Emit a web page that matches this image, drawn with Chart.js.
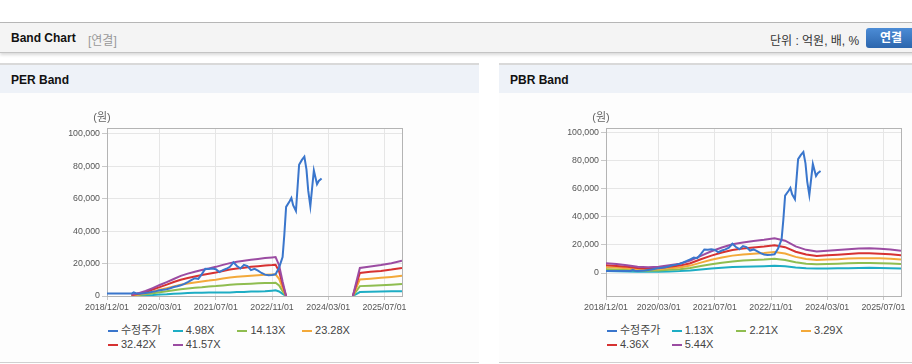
<!DOCTYPE html>
<html lang="ko">
<head>
<meta charset="utf-8">
<title>Band Chart</title>
<script src="https://cdn.jsdelivr.net/npm/chart.js@4.4.1/dist/chart.umd.min.js"></script>
<style>
    html, body { margin: 0; padding: 0; width: 912px; height: 364px; overflow: hidden; background: #fff;
        font-family: "Liberation Sans", Arial, "Noto Sans CJK KR", sans-serif; }
    .wrap { position: relative; width: 980px; height: 364px; }
    .top-line { position: absolute; left: 0; top: 22px; width: 980px; height: 1px; background: #b8b8b8; }
    .head { position: absolute; left: 0; top: 23px; width: 980px; height: 29px; background: #f4f4f4;
        border-bottom: 1px solid #c4c4c4; box-shadow: 0 2px 3px rgba(0, 0, 0, 0.15); }
    .head .tit { position: absolute; left: 11px; top: 8px; font-size: 12px; font-weight: bold; color: #111; }
    .head .sub { position: absolute; left: 77px; top: 0; color: #999; font-weight: normal; white-space: nowrap; }
    .head .unit { position: absolute; left: 770px; top: 8px; font-size: 12px; color: #333; }
    .head .btn { position: absolute; left: 866px; top: 5px; width: 50px; height: 20px; border-radius: 3px;
        background: linear-gradient(#4c8cd6, #2c66ad); color: #fff; font-weight: bold; font-size: 12px;
        text-align: center; line-height: 20px; }
    .panel { position: absolute; top: 63px; width: 479px; height: 297px; border-top: 2px solid #d9d9d9;
        border-bottom: 1px solid #d0d0d0; background: #fdfdfd; }
    .panel h3 { margin: 0; height: 27px; line-height: 28px; padding: 1px 0 0 11px; font-size: 12px;
        background: #eef2f8; color: #111; }
    .panel canvas { position: absolute; left: 0; top: 28px; }
    .legend { position: absolute; left: 108px; top: 258px; width: 300px; font-size: 11px; color: #444; }
    .legend span { display: inline-block; width: 64.7px; height: 14px; line-height: 14px; white-space: nowrap; }
    .legend i { display: inline-block; width: 10px; height: 2px; vertical-align: middle; margin-right: 3px; }
</style>
</head>
<body>
<div class="wrap">
    <div class="top-line"></div>
    <div class="head">
        <div class="tit">Band Chart<span class="sub">[연결]</span></div>
        <div class="unit">단위 : 억원, 배, %</div>
        <div class="btn">연결</div>
    </div>
    <div class="panel" style="left:0">
        <h3>PER Band</h3>
        <canvas id="per-chart" width="479" height="230"></canvas>
        <div class="legend" id="per-legend"></div>
    </div>
    <div class="panel" style="left:499px">
        <h3>PBR Band</h3>
        <canvas id="pbr-chart" width="479" height="230"></canvas>
        <div class="legend" id="pbr-legend"></div>
    </div>
</div>
<script>
(function () {
    'use strict';

    // x positions are months counted from 2018/12.
    var X_TICK_MONTHS = [0, 15, 31, 47, 63, 79];
    var X_TICK_LABELS = ['2018/12/01', '2020/03/01', '2021/07/01', '2022/11/01', '2024/03/01', '2025/07/01'];
    var Y_TICKS = [0, 20000, 40000, 60000, 80000, 100000];

    // 수정주가 (shared by both charts)
    var PRICE_MONTHS = [0, 2, 4, 6, 7, 7.6, 8.2, 9, 10,
        11, 12, 13, 14, 15, 16, 17, 18, 19, 20,
        21, 22, 23, 24, 25, 26, 27, 28, 29, 30,
        31, 32, 33, 34, 35, 36, 37, 38, 39, 40,
        41, 42, 43, 44, 45, 46, 47, 48, 49, 50,
        50.5, 51, 52, 52.5, 53, 53.8, 54.7, 55.5, 56.2, 56.8, 57.3, 57.9, 58.9, 59.8, 60.3, 61.1];
    var PRICE = [1500, 1500, 1500, 1500, 1500, 2300, 1700, 1400, 1600,
        1800, 2200, 2600, 3000, 3500, 3800, 4200, 4800, 5500, 6000,
        6600, 7500, 8600, 9800, 11000, 10600, 13500, 16800, 16600, 16900,
        16500, 14800, 16000, 16800, 18000, 20800, 18500, 17000, 19200, 18500,
        16000, 16800, 15600, 14200, 13200, 12800, 13000, 13400, 17500, 24000,
        38000, 55000, 58500, 60500, 56000, 52500, 81000, 84000, 86000, 78000, 65000, 55500, 77500, 69000, 71000, 72500];

    // PER band (null = gap)
    var PER_MONTHS = [7, 9, 11, 13, 15, 17, 19, 21, 23, 25, 27, 29, 31, 33, 35, 37, 39, 41, 43, 45,
        47, 48, 49, 50, 51, 60, 70, 72, 75, 78, 81, 84];
    var PER_498 = [100, 300, 400, 600, 900, 1100, 1400, 1600, 1800, 2000, 2000, 2100, 2100, 2200, 2200, 2400, 2500, 2800, 2800, 2900,
        3300, 3500, 2800, 1300, 0, null, 0, 2400, 2600, 2800, 2900, 3000];
    var PER_1413 = [300, 600, 1100, 1700, 2300, 2900, 3600, 4200, 4700, 5100, 5400, 5800, 6100, 6500, 6900, 7200, 7400, 7600, 7800, 8000,
        8100, 8200, 6500, 3000, 0, null, 0, 6100, 6400, 6700, 7000, 7400];
    var PER_2328 = [400, 900, 1700, 2700, 3800, 4800, 5900, 6900, 7700, 8400, 9000, 9500, 10100, 10800, 11400, 11900, 12200, 12500, 12800, 13100,
        13300, 13400, 10600, 5000, 0, null, 0, 10200, 10700, 11200, 11800, 12500];
    var PER_3242 = [600, 1400, 2500, 4000, 5500, 7000, 8600, 10000, 11100, 12000, 12900, 13700, 14500, 15400, 16300, 17000, 17500, 18000, 18400, 18800,
        19100, 19300, 15200, 7200, 0, null, 0, 14200, 14900, 15500, 16300, 17300];
    var PER_4157 = [800, 1800, 3100, 4900, 6800, 8600, 10500, 12400, 13800, 15000, 16000, 17000, 18000, 19200, 20300, 21200, 21800, 22400, 22900, 23400,
        23800, 24000, 19000, 9000, 0, null, 0, 17300, 18200, 19100, 20200, 21800];

    // PBR band
    var PBR_MONTHS = [0, 3, 6, 9, 12, 15, 18, 21, 24, 27, 30, 33, 36, 39, 42, 45, 48, 51, 54, 57, 60, 63, 66, 69, 72, 75, 78, 81, 84];
    var PBR_113 = [1500, 1300, 1200, 900, 900, 900, 1200, 1400, 1800, 2500, 3200, 3800, 4300, 4500, 4700, 4900, 5200, 4800, 3900, 3400,
        3200, 3300, 3400, 3500, 3600, 3700, 3600, 3500, 3300];
    var PBR_221 = [2800, 2600, 2300, 1800, 1700, 1800, 2300, 2700, 3600, 5000, 6300, 7400, 8300, 8900, 9300, 9600, 10100, 9300, 7700, 6700,
        6200, 6400, 6700, 6900, 7100, 7100, 7000, 6800, 6500];
    var PBR_329 = [4200, 3900, 3400, 2700, 2500, 2700, 3400, 4000, 5300, 7400, 9400, 11000, 12400, 13200, 13800, 14300, 15000, 13900, 11500, 10000,
        9300, 9600, 9900, 10300, 10600, 10600, 10500, 10200, 9600];
    var PBR_436 = [5600, 5100, 4500, 3600, 3300, 3600, 4500, 5300, 7000, 9800, 12400, 14600, 16400, 17400, 18200, 18900, 19800, 18400, 15200, 13200,
        12200, 12600, 13100, 13600, 14000, 14100, 13800, 13400, 12700];
    var PBR_544 = [7000, 6400, 5600, 4500, 4100, 4500, 5600, 6600, 8800, 12200, 15500, 18200, 20500, 21800, 22800, 23600, 24800, 23000, 19000, 16500,
        15300, 15800, 16400, 17000, 17500, 17600, 17300, 16800, 15900];

    var PER_NAMES = ['수정주가', '4.98X', '14.13X', '23.28X', '32.42X', '41.57X'];
    var PBR_NAMES = ['수정주가', '1.13X', '2.21X', '3.29X', '4.36X', '5.44X'];
    var COLORS = ['#3a76cc', '#1eadc4', '#8fbd50', '#f3a93a', '#d63232', '#9b4ca2'];

    var FONT = "'Liberation Sans', Arial, sans-serif";

    function points(xs, ys) {
        return xs.map(function (x, i) { return { x: x, y: ys[i] }; });
    }

    // Frame around the plot and the unit label above the y axis.
    var framePlugin = {
        id: 'frame',
        beforeDatasetsDraw: function (chart) {
            var a = chart.chartArea;
            var ctx = chart.ctx;
            ctx.save();
            ctx.strokeStyle = '#b4b4b4';
            ctx.lineWidth = 1;
            ctx.strokeRect(Math.round(a.left) + 0.5, Math.round(a.top) + 0.5,
                Math.round(a.right - a.left), Math.round(a.bottom - a.top));
            ctx.restore();
        },
        afterDraw: function (chart) {
            var a = chart.chartArea;
            var ctx = chart.ctx;
            ctx.save();
            ctx.fillStyle = '#666';
            ctx.font = "11px 'Liberation Sans', 'Noto Sans CJK KR', sans-serif";
            ctx.textAlign = 'center';
            ctx.textBaseline = 'middle';
            ctx.fillText('(원)', a.left - 5, a.top - 10);
            ctx.restore();
        }
    };

    function buildChart(id, names, bandMonths, bands, yMin, yMax) {
        var datasets = [{
            label: names[0],
            data: points(PRICE_MONTHS, PRICE),
            borderColor: COLORS[0],
            order: 0
        }];
        bands.forEach(function (vals, i) {
            datasets.push({
                label: names[i + 1],
                data: points(bandMonths, vals),
                borderColor: COLORS[i + 1],
                order: bands.length - i
            });
        });
        datasets.forEach(function (d) {
            d.borderWidth = 2;
            d.pointRadius = 0;
            d.tension = 0;
            d.spanGaps = false;
        });

        return new Chart(document.getElementById(id), {
            type: 'line',
            data: { datasets: datasets },
            plugins: [framePlugin],
            options: {
                responsive: false,
                animation: false,
                devicePixelRatio: 1,
                layout: { padding: { top: 35, right: 77, left: 0, bottom: 0 } },
                plugins: { legend: { display: false }, tooltip: { enabled: false } },
                scales: {
                    x: {
                        type: 'linear',
                        min: 0,
                        max: 84,
                        afterBuildTicks: function (scale) {
                            scale.ticks = X_TICK_MONTHS.map(function (v) { return { value: v }; });
                        },
                        afterFit: function (scale) { scale.height = 27; },
                        ticks: {
                            autoSkip: false,
                            maxRotation: 0,
                            padding: 2,
                            color: '#555',
                            font: { size: 8.8, family: FONT },
                            callback: function (value, index) { return X_TICK_LABELS[index]; }
                        },
                        grid: { color: '#e6e6e6', tickLength: 4, tickColor: '#c8c8c8' },
                        border: { display: false }
                    },
                    y: {
                        min: yMin,
                        max: yMax,
                        afterBuildTicks: function (scale) {
                            scale.ticks = Y_TICKS.map(function (v) { return { value: v }; });
                        },
                        afterFit: function (scale) { scale.width = 107; },
                        ticks: {
                            padding: 2,
                            color: '#555',
                            font: { size: 8.8, family: FONT },
                            callback: function (value) { return value.toLocaleString('en-US'); }
                        },
                        grid: { color: '#e6e6e6', tickLength: 5, tickColor: '#c8c8c8' },
                        border: { display: false }
                    }
                }
            }
        });
    }

    function buildLegend(id, names) {
        var el = document.getElementById(id);
        names.forEach(function (name, i) {
            var item = document.createElement('span');
            var mark = document.createElement('i');
            mark.style.background = COLORS[i];
            item.appendChild(mark);
            item.appendChild(document.createTextNode(name));
            el.appendChild(item);
        });
    }

    buildChart('per-chart', PER_NAMES, PER_MONTHS, [PER_498, PER_1413, PER_2328, PER_3242, PER_4157], 0, 103700);
    buildChart('pbr-chart', PBR_NAMES, PBR_MONTHS, [PBR_113, PBR_221, PBR_329, PBR_436, PBR_544], -16300, 103100);
    buildLegend('per-legend', PER_NAMES);
    buildLegend('pbr-legend', PBR_NAMES);
})();
</script>
</body>
</html>
